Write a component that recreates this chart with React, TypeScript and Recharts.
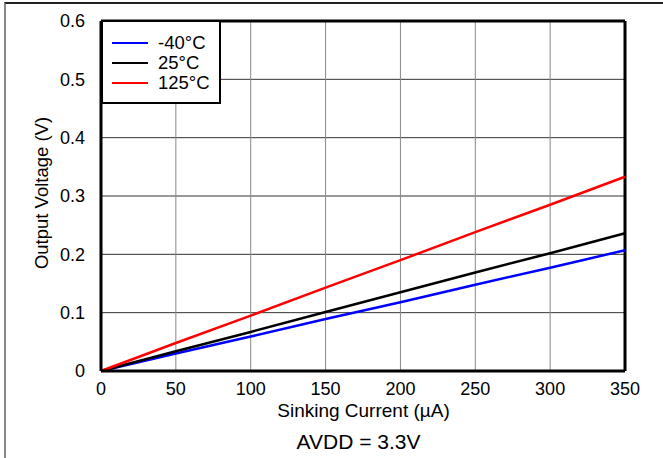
import { CartesianGrid, Line, LineChart, ReferenceLine, XAxis, YAxis } from "recharts";

const currents = [0, 50, 100, 150, 200, 250, 300, 350];
const coldVolts = [0, 0.03, 0.059, 0.089, 0.118, 0.148, 0.177, 0.207];
const roomVolts = [0, 0.034, 0.067, 0.101, 0.135, 0.169, 0.202, 0.236];
const hotVolts = [0, 0.048, 0.095, 0.143, 0.19, 0.238, 0.285, 0.333];

const xTicks = [0, 50, 100, 150, 200, 250, 300, 350];
const yTicks = [0, 0.1, 0.2, 0.3, 0.4, 0.5, 0.6];

const series = [
  { key: "cold", label: "-40°C", color: "#0000ff" },
  { key: "room", label: "25°C", color: "#000000" },
  { key: "hot", label: "125°C", color: "#ff0000" },
];

const data = currents.map((c, i) => ({
  current: c,
  cold: coldVolts[i],
  room: roomVolts[i],
  hot: hotVolts[i],
}));

const font = "'Liberation Sans', Arial, sans-serif";

function LegendBox() {
  return (
    <div
      style={{
        position: "absolute",
        left: 101,
        top: 20,
        width: 116,
        height: 80,
        border: "2px solid #000",
        background: "#fff",
        fontFamily: font,
        fontSize: 18.5,
        color: "#000",
      }}
    >
      {series.map((s, i) => (
        <div key={s.key} style={{ display: "flex", alignItems: "center", height: 20, marginTop: i === 0 ? 11 : 0 }}>
          <div style={{ width: 36, height: 2.5, background: s.color, marginLeft: 9, marginRight: 10 }} />
          <span>{s.label}</span>
        </div>
      ))}
    </div>
  );
}

export default function App() {
  return (
    <div style={{ position: "absolute", left: 0, top: 0, width: 663, height: 458, background: "#fff" }}>
      <div
        style={{
          position: "absolute",
          left: 4,
          top: 2,
          width: 659,
          height: 456,
          borderTop: "2px solid #222",
          borderLeft: "2px solid #888",
        }}
      />
      <LineChart
        width={663}
        height={458}
        data={data}
        margin={{ top: 21, right: 38, left: 41, bottom: 57 }}
        style={{ fontFamily: font, fontSize: 18 }}
      >
        <CartesianGrid stroke="#333" strokeWidth={1} vertical={false} />
        <CartesianGrid stroke="#888" strokeWidth={1} horizontal={false} />
        <XAxis
          dataKey="current"
          type="number"
          domain={[0, 350]}
          ticks={xTicks}
          tickLine={false}
          axisLine={{ stroke: "#000", strokeWidth: 3 }}
          tick={{ fill: "#000", fontSize: 18 }}
          tickMargin={5}
          height={30}
        />
        <YAxis
          type="number"
          domain={[0, 0.6]}
          ticks={yTicks}
          tickFormatter={(v: number) => (v === 0 ? "0" : v.toFixed(1))}
          tickLine={false}
          axisLine={{ stroke: "#000", strokeWidth: 3 }}
          tick={{ fill: "#000", fontSize: 18 }}
          tickMargin={10}
          width={60}
        />
        <ReferenceLine y={0.6} stroke="#000" strokeWidth={3} />
        <ReferenceLine x={350} stroke="#000" strokeWidth={3} />
        {series.map((s) => (
          <Line
            key={s.key}
            dataKey={s.key}
            name={s.label}
            stroke={s.color}
            strokeWidth={2.5}
            dot={false}
            activeDot={false}
            type="linear"
            isAnimationActive={false}
          />
        ))}
      </LineChart>
      <LegendBox />
      <div
        style={{
          position: "absolute",
          top: 400,
          left: 0,
          width: 727,
          textAlign: "center",
          fontFamily: font,
          fontSize: 19,
          color: "#000",
        }}
      >
        Sinking Current (µA)
      </div>
      <div
        style={{
          position: "absolute",
          top: 193,
          left: 42,
          transform: "translate(-50%, -50%) rotate(-90deg)",
          whiteSpace: "nowrap",
          fontFamily: font,
          fontSize: 18.5,
          color: "#000",
        }}
      >
        Output Voltage (V)
      </div>
      <div
        style={{
          position: "absolute",
          top: 430,
          left: 0,
          width: 717,
          textAlign: "center",
          fontFamily: font,
          fontSize: 21,
          color: "#000",
        }}
      >
        AVDD = 3.3V
      </div>
    </div>
  );
}
